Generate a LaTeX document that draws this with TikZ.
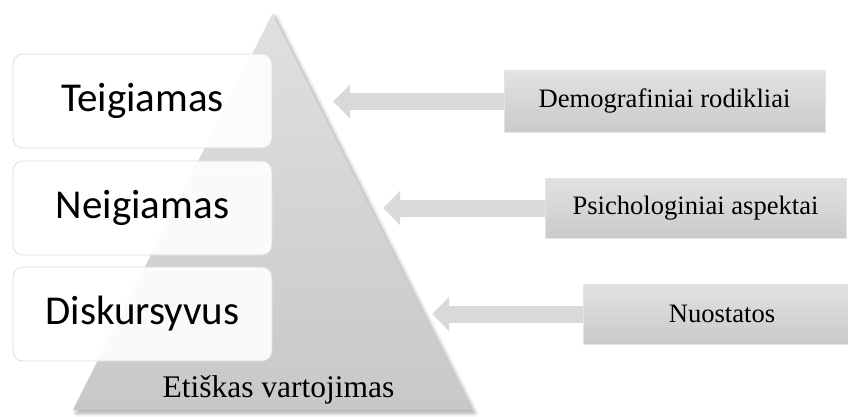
\documentclass[tikz,border=0pt]{standalone}
\usepackage{fontspec}
\setmainfont{Liberation Serif}
\newfontfamily\levelfont{Carlito}
\usetikzlibrary{arrows.meta,shadows.blur}
\definecolor{pyrtop}{HTML}{E0E0E0}
\definecolor{pyrbottom}{HTML}{C8C8C8}
\definecolor{boxline}{HTML}{DCDCDC}
\definecolor{factortop}{HTML}{E2E2E2}
\definecolor{factorbottom}{HTML}{CACACA}
\definecolor{factorline}{HTML}{E4E4E4}
\definecolor{arrowgray}{HTML}{D9D9D9}
\tikzset{
  levelbox/.style={draw=boxline, line width=0.8pt, fill=white, fill opacity=0.9,
    text opacity=1, rounded corners=10pt, minimum width=259pt, minimum height=94pt,
    inner sep=0pt, font=\levelfont\fontsize{41}{48}\selectfont},
  factorbox/.style={draw=factorline, line width=0.8pt, top color=factortop,
    bottom color=factorbottom, inner sep=0pt, font=\fontsize{26.6}{30}\selectfont},
  flowarrow/.style={draw=arrowgray, line width=17pt,
    -{Triangle[length=17pt,width=33pt]}},
}
\begin{document}
\begin{tikzpicture}[x=1pt,y=-1pt]
\clip (0,0) rectangle (848,417);
% pyramid: soft shadow first, then the gradient body
\coordinate (apex) at (272.5,14);
\coordinate (baseL) at (73,410);
\coordinate (baseR) at (472,410);
\fill[pyrbottom, blur shadow={shadow xshift=3pt, shadow yshift=-3pt,
    shadow blur steps=6, shadow blur radius=4pt, shadow opacity=35}]
  (apex) -- (baseR) -- (baseL) -- cycle;
\shade[top color=pyrtop, bottom color=pyrbottom]
  (apex) -- (baseR) -- (baseL) -- cycle;

% influencing factors
\node[factorbox, minimum width=321pt, minimum height=61pt] (demo) at (664.5,101.5) {Demografiniai rodikliai};
\node[factorbox, minimum width=301pt, minimum height=60pt] (psych) at (695.5,208) {Psichologiniai aspektai};
\node[factorbox, minimum width=278pt, minimum height=60pt] (nuost) at (722,314) {Nuostatos};

% arrow tips
\coordinate (tipA) at (333,101.5);
\coordinate (tipB) at (383,208);
\coordinate (tipC) at (432,314);
\draw[flowarrow] (demo.west) -- (tipA);
\draw[flowarrow] (psych.west) -- (tipB);
\draw[flowarrow] (nuost.west) -- (tipC);

% levels
\node[levelbox] (teig) at (142.5,101) {Teigiamas};
\node[levelbox] (neig) at (142.5,208) {Neigiamas};
\node[levelbox] (disk) at (142.5,314) {Diskursyvus};

% pyramid base label
\node[anchor=base, inner sep=0pt, font=\fontsize{31.5}{36}\selectfont] (etika) at (278.5,397) {Etiškas vartojimas};
\end{tikzpicture}
\end{document}
